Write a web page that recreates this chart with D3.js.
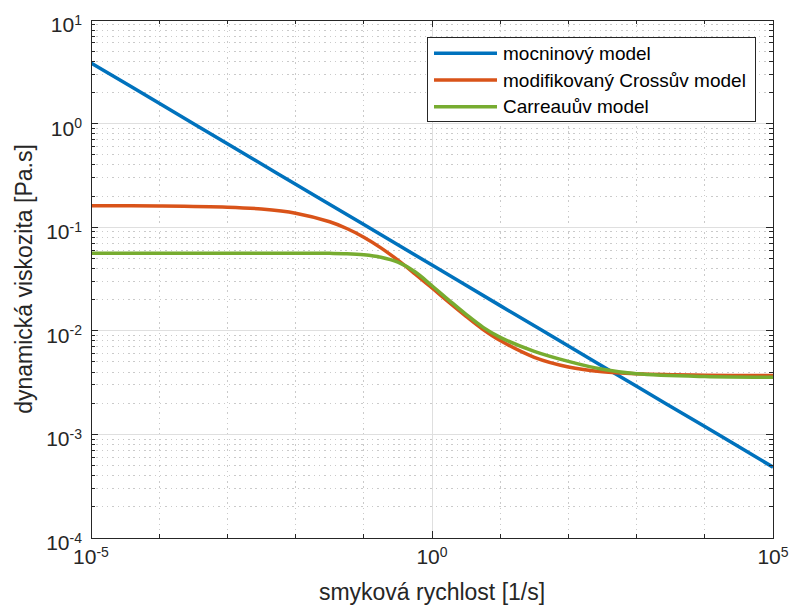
<!DOCTYPE html>
<html>
<head>
<meta charset="utf-8">
<script src="https://cdn.jsdelivr.net/npm/d3@7"></script>
<style>
  html, body { margin: 0; padding: 0; background: #fff; }
  svg { display: block; font-family: "Liberation Sans", Arial, Helvetica, sans-serif; }
</style>
</head>
<body>
<svg id="chart" width="790" height="610"></svg>
<script>
// ---- data ----
const seriesNames = ["mocninový model", "modifikovaný Crossův model", "Carreauův model"];
const seriesColors = ["#0072BD", "#D95319", "#77AC30"];

const powerX = [1e-5, 1e-4, 1e-3, 1e-2, 1e-1, 1e0, 1e1, 1e2, 1e3, 1e4, 1e5];
const powerY = [3.85, 1.57, 0.638, 0.260, 0.106, 0.0431, 0.0175, 0.00714, 0.00291, 0.00119, 0.000483];

const modelX = [1e-5, 1e-4, 1e-3, 3.16e-3, 1e-2, 3.16e-2, 5.62e-2, 1e-1, 0.178, 0.316, 0.562, 1, 1.78, 3.16, 5.62, 10, 31.6, 100, 316, 1000, 1e4, 1e5];
const crossY = [0.1609, 0.1601, 0.1561, 0.1498, 0.1366, 0.1128, 0.0971, 0.0801, 0.0632, 0.0481, 0.0355, 0.0259, 0.0188, 0.0138, 0.0103, 0.00806, 0.00555, 0.00448, 0.00402, 0.00384, 0.00372, 0.00370];
const carreauY = [0.0561, 0.0561, 0.0561, 0.0561, 0.0561, 0.0559, 0.0555, 0.0542, 0.0513, 0.0459, 0.0371, 0.0272, 0.0197, 0.0144, 0.0108, 0.00865, 0.00634, 0.00507, 0.00425, 0.00385, 0.00362, 0.00356];

const xTickExps = [-5, 0, 5];
const yTickExps = [-4, -3, -2, -1, 0, 1];
const xLabel = "smyková rychlost [1/s]";
const yLabel = "dynamická viskozita [Pa.s]";

// ---- layout ----
const L = 91, R = 773, T = 20, B = 538;
const svg = d3.select("#chart");
const x = d3.scaleLog().domain([1e-5, 1e5]).range([L, R]);
const y = d3.scaleLog().domain([1e-4, 1e1]).range([B, T]);

const majorGrid = "#dfdfdf", minorGrid = "#cacaca", axisColor = "#262626";

const xMinor = d3.range(-5, 6).filter(e => !xTickExps.includes(e)).map(e => Math.pow(10, e));
const xMajor = xTickExps.map(e => Math.pow(10, e));
const yMajor = yTickExps.map(e => Math.pow(10, e));
const yMinor = [];
for (let e = -4; e < 1; e++) for (let m = 2; m <= 9; m++) yMinor.push(m * Math.pow(10, e));

const grid = svg.append("g");
grid.selectAll(".ymin").data(yMinor).enter().append("line")
  .attr("x1", L).attr("x2", R).attr("y1", d => y(d)).attr("y2", d => y(d))
  .attr("stroke", minorGrid).attr("stroke-width", 1).attr("stroke-dasharray", "1.5,3.8")
  .attr("shape-rendering", "crispEdges");
grid.selectAll(".xmin").data(xMinor).enter().append("line")
  .attr("x1", d => x(d)).attr("x2", d => x(d)).attr("y1", T).attr("y2", B)
  .attr("stroke", minorGrid).attr("stroke-width", 1).attr("stroke-dasharray", "1.5,3.8")
  .attr("shape-rendering", "crispEdges");
grid.selectAll(".ymaj").data(yMajor).enter().append("line")
  .attr("x1", L).attr("x2", R).attr("y1", d => y(d)).attr("y2", d => y(d))
  .attr("stroke", majorGrid).attr("stroke-width", 1).attr("shape-rendering", "crispEdges");
grid.selectAll(".xmaj").data(xMajor).enter().append("line")
  .attr("x1", d => x(d)).attr("x2", d => x(d)).attr("y1", T).attr("y2", B)
  .attr("stroke", majorGrid).attr("stroke-width", 1).attr("shape-rendering", "crispEdges");

// ---- lines ----
svg.append("clipPath").attr("id", "clip").append("rect")
  .attr("x", L).attr("y", T).attr("width", R - L).attr("height", B - T);

const series = [
  powerX.map((v, i) => [v, powerY[i]]),
  modelX.map((v, i) => [v, crossY[i]]),
  modelX.map((v, i) => [v, carreauY[i]])
];
const line = d3.line().x(d => x(d[0])).y(d => y(d[1])).curve(d3.curveCatmullRom.alpha(0.5));
const lines = svg.append("g").attr("clip-path", "url(#clip)");
series.forEach((s, i) => {
  lines.append("path").attr("d", line(s)).attr("fill", "none")
    .attr("stroke", seriesColors[i]).attr("stroke-width", 3.5).attr("stroke-linejoin", "round");
});

// ---- axes box and ticks ----
const ax = svg.append("g").attr("stroke", axisColor).attr("stroke-width", 1).attr("shape-rendering", "crispEdges");
ax.append("rect").attr("x", L).attr("y", T).attr("width", R - L).attr("height", B - T).attr("fill", "none");
const majLen = 7, minLen = 4;
yMajor.forEach(v => {
  ax.append("line").attr("x1", L).attr("x2", L + majLen).attr("y1", y(v)).attr("y2", y(v));
  ax.append("line").attr("x1", R).attr("x2", R - majLen).attr("y1", y(v)).attr("y2", y(v));
});
yMinor.forEach(v => {
  ax.append("line").attr("x1", L).attr("x2", L + minLen).attr("y1", y(v)).attr("y2", y(v));
  ax.append("line").attr("x1", R).attr("x2", R - minLen).attr("y1", y(v)).attr("y2", y(v));
});
xMajor.forEach(v => {
  ax.append("line").attr("x1", x(v)).attr("x2", x(v)).attr("y1", B).attr("y2", B - majLen);
  ax.append("line").attr("x1", x(v)).attr("x2", x(v)).attr("y1", T).attr("y2", T + majLen);
});
xMinor.forEach(v => {
  ax.append("line").attr("x1", x(v)).attr("x2", x(v)).attr("y1", B).attr("y2", B - minLen);
  ax.append("line").attr("x1", x(v)).attr("x2", x(v)).attr("y1", T).attr("y2", T + minLen);
});

// ---- tick labels ----
const tickFont = 21, supFont = 14;
function powLabel(g, xx, yy, exp, anchor) {
  const t = g.append("text").attr("x", xx).attr("y", yy).attr("text-anchor", anchor)
    .attr("fill", axisColor).attr("font-size", tickFont);
  t.append("tspan").text("10");
  t.append("tspan").attr("font-size", supFont).attr("dy", -7.5).text(String(exp));
}
const labels = svg.append("g");
yTickExps.forEach(e => powLabel(labels, 82, y(Math.pow(10, e)) + 12, e, "end"));
xTickExps.forEach(e => powLabel(labels, x(Math.pow(10, e)), 564, e, "middle"));

// ---- axis titles ----
svg.append("text").attr("x", (L + R) / 2).attr("y", 600).attr("text-anchor", "middle")
  .attr("font-size", 23).attr("fill", axisColor).text(xLabel);
svg.append("text").attr("transform", `translate(32,${(T + B) / 2}) rotate(-90)`)
  .attr("text-anchor", "middle").attr("font-size", 23).attr("fill", axisColor).text(yLabel);

// ---- legend ----
const lg = svg.append("g");
lg.append("rect").attr("x", 427).attr("y", 37).attr("width", 328).attr("height", 84)
  .attr("fill", "#fff").attr("stroke", axisColor).attr("stroke-width", 1).attr("shape-rendering", "crispEdges");
const rowY = [53.3, 80, 106.7];
seriesNames.forEach((n, i) => {
  lg.append("line").attr("x1", 434).attr("x2", 497).attr("y1", rowY[i]).attr("y2", rowY[i])
    .attr("stroke", seriesColors[i]).attr("stroke-width", 3.5);
  lg.append("text").attr("x", 503).attr("y", rowY[i] + 6.5).attr("font-size", 19)
    .attr("fill", "#000").text(n);
});
</script>
</body>
</html>
